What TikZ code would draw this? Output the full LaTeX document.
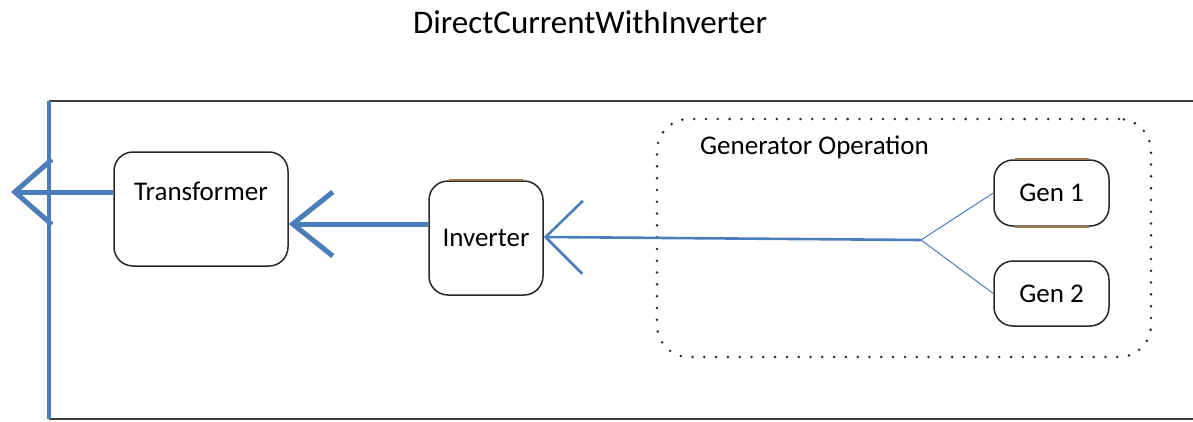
\documentclass[tikz,border=0pt]{standalone}
\usepackage{fontspec}
\setmainfont{Carlito}
\usetikzlibrary{arrows.meta}
\definecolor{flow}{RGB}{74,126,187}
\definecolor{edge}{RGB}{40,40,40}
\definecolor{tan}{RGB}{160,120,80}
\tikzset{
  box/.style={draw=edge, line width=1.5pt, rounded corners=19pt, fill=white, font=\fontsize{27}{30}\selectfont, inner sep=0pt},
  grp/.style={draw=edge, line width=2.8pt, line cap=round, dash pattern=on 0pt off 11.8pt, rounded corners=32pt},
  flowthick/.style={draw=flow, line width=5pt},
  flowmid/.style={draw=flow, line width=2.6pt},
  flowthin/.style={draw=flow, line width=1pt},
}
\begin{document}
\begin{tikzpicture}[x=1pt,y=-1pt]
\useasboundingbox (0,0) rectangle (1193,421);
% title
\node[font=\fontsize{33}{36}\selectfont] (title) at (590,22) {DirectCurrentWithInverter};
% frame
\coordinate (ftl) at (49,101);
\coordinate (fbl) at (49,419);
\coordinate (ftr) at (1193,101);
\coordinate (fbr) at (1193,419);
\draw[edge!90, line width=2pt] (ftl) -- (ftr);
\draw[edge!90, line width=2pt] (fbl) -- (fbr);
\draw[flow, line width=3.5pt] (ftl) -- (fbl);
% group
\node[grp, minimum width=494pt, minimum height=238pt] (grp) at (904,238) {};
\node[anchor=west, font=\fontsize{27}{30}\selectfont, inner sep=0pt] (glabel) at (700,147) {Generator Operation};
% boxes
\node[box, minimum width=174pt, minimum height=114pt, text height=19pt, text depth=37pt] (tr) at (201,209) {Transformer};
\node[box, minimum width=114pt, minimum height=114pt] (inv) at (486,238) {Inverter};
\node[box, minimum width=115pt, minimum height=66pt] (g1) at (1051.5,193) {Gen 1};
\node[box, minimum width=115pt, minimum height=65pt] (g2) at (1051.5,293.5) {Gen 2};
% brown edge tints
\draw[tan, line width=1.6pt] ([xshift=-37pt]inv.north) -- ([xshift=37pt]inv.north);
\draw[tan, line width=1.6pt] ([xshift=-37pt]g1.north) -- ([xshift=37pt]g1.north);
\draw[tan, line width=1.6pt] ([xshift=-37pt]g1.south) -- ([xshift=37pt]g1.south);
% connectors
\coordinate (junc) at (921,240);
\coordinate (out) at (11,192);
\draw[flowthin] (g1.west) -- (junc);
\draw[flowthin] (g2.west) -- (junc);
\draw[flowmid, -{Straight Barb[length=37pt, width=73pt, line width=2.6pt]}] (junc) -- (inv.east |- 0,237);
\draw[flowthick, -{Straight Barb[length=40pt, width=64pt, line width=5pt]}] (inv.west |- 0,224) -- (tr.east |- 0,224);
\draw[flowthick, -{Straight Barb[length=37pt, width=65pt, line width=5pt]}] (tr.west |- 0,192) -- (out);
\end{tikzpicture}
\end{document}
